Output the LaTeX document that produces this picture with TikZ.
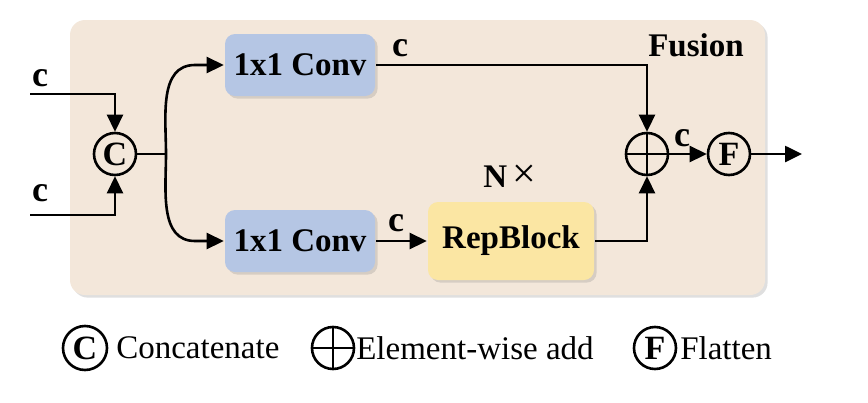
\documentclass[tikz,border=0pt]{standalone}
\usepackage{fontspec}
\setmainfont{Liberation Serif}
\usetikzlibrary{arrows.meta,shadows}

\definecolor{bgbeige}{HTML}{F3E7DA}
\definecolor{convblue}{HTML}{B5C6E4}
\definecolor{repyellow}{HTML}{FBE6A3}

\begin{document}
\begin{tikzpicture}
  [x=0.5pt,y=-0.5pt,
   font=\fontsize{16.5}{19}\selectfont,
   >={Triangle[length=8.5pt,width=8pt]},
   line width=1.3pt,
   shade/.style={drop shadow={shadow xshift=1.3pt,shadow yshift=-1.3pt,opacity=0.25}},
   block/.style={rectangle,rounded corners=5pt,minimum width=75pt,minimum height=31pt,
     font=\fontsize{16.5}{19}\selectfont\bfseries,shade},
   conv/.style={block,fill=convblue},
   rep/.style={block,fill=repyellow,minimum width=83pt,minimum height=39pt},
   op/.style={circle,draw,minimum size=21pt,inner sep=0pt,font=\fontsize{17}{19}\selectfont\bfseries},
   addop/.style={op,path picture={
     \draw (path picture bounding box.north) -- (path picture bounding box.south)
           (path picture bounding box.west) -- (path picture bounding box.east);}},
   clbl/.style={font=\fontsize{18}{20}\selectfont\bfseries,inner sep=0pt},
   legtxt/.style={anchor=west,inner sep=0pt}]

  \useasboundingbox (0,0) rectangle (868,402);

  % fusion module background
  \fill[bgbeige,rounded corners=7.5pt,shade] (70,20) rectangle (765,295);
  \node[font=\fontsize{16.5}{19}\selectfont\bfseries] (fusion) at (696,45) {Fusion};

  \node[conv] (conv1) at (300,65) {1x1 Conv};
  \node[conv] (conv2) at (300,241) {1x1 Conv};
  \node[rep] (rep) at (511,241) {RepBlock};
  \node (nx) at (510,176) {{\bfseries N}\,{\fontsize{21}{21}\selectfont ×}};

  \node[op] (cat) at (115,154) {C};
  \node[addop] (add) at (647,154) {};
  \node[op] (flat) at (729,154) {F};

  \coordinate (in1) at (30,94);
  \coordinate (in2) at (30,215);
  \coordinate (split) at (166,154);
  \coordinate (b1) at (195,65);
  \coordinate (b2) at (195,241);
  \coordinate (out) at (802,154);

  \draw[->] (in1) -| (cat);
  \draw[->] (in2) -| (cat);
  \draw (cat) -- (split);
  \draw[->] (split) to[out=90,in=180] (b1) -- (conv1);
  \draw[->] (split) to[out=-90,in=180] (b2) -- (conv2);
  \draw[->] (conv1) -| (add);
  \draw[->] (rep) -| (add);
  \path[->,draw]
        (conv2) edge (rep)
        (add) edge (flat)
        (flat) edge (out);

  % channel labels
  \node[clbl] (c1) at (40,78) {c};
  \node[clbl] (c2) at (40,193) {c};
  \node[clbl] (c3) at (400,48) {c};
  \node[clbl] (c4) at (396,223) {c};
  \node[clbl] (c5) at (682,138) {c};

  % legend
  \node[op,minimum size=22pt] (lgcat) at (85,348) {C};
  \node[legtxt] (lgcattxt) at (115,348) {Concatenate};
  \node[addop,minimum size=21pt] (lgadd) at (333,348) {};
  \node[legtxt] (lgaddtxt) at (355,348) {Element-wise add};
  \node[op,minimum size=21pt] (lgflat) at (655,348) {F};
  \node[legtxt] (lgflattxt) at (679,348) {Flatten};

\end{tikzpicture}
\end{document}
